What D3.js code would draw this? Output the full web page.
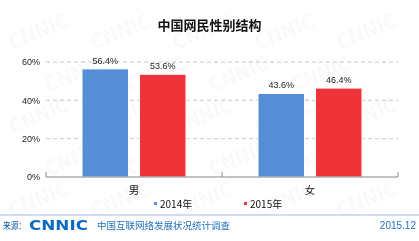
<!DOCTYPE html>
<html lang="zh">
<head>
<meta charset="utf-8">
<title>中国网民性别结构</title>
<script src="https://d3js.org/d3.v7.min.js"></script>
<style>
  body { margin: 0; background: #fff; }
  text { font-family: "Noto Sans CJK SC", "DejaVu Sans", sans-serif; }
  .tick text { font-family: "Liberation Sans", "Noto Sans CJK SC", sans-serif; font-size: 9px; fill: #222; }
  .grid line { stroke: #c8c8c8; stroke-dasharray: 4,3; }
</style>
</head>
<body>
<div id="chart"></div>
<script>
const categories = ["男", "女"];
const seriesNames = ["2014年", "2015年"];
const seriesColors = ["#558ed5", "#ee3438"];
const values2014 = [56.4, 43.6];
const values2015 = [53.6, 46.4];
const yTicks = [0, 20, 40, 60];

const w = 419, h = 241;
const margin = {top: 62, right: 21, bottom: 64, left: 46};
const pw = w - margin.left - margin.right;
const ph = h - margin.top - margin.bottom;

const svg = d3.select("#chart").append("svg")
  .attr("width", w).attr("height", h);

// faint watermark, kept inside the picture
const wm = svg.append("g").attr("fill", "#000").attr("opacity", 0.025)
  .style("font-family", "DejaVu Sans").style("font-weight", "bold").style("font-size", "20px");
for (let r = 0; r < 5; r++) {
  for (let c = 0; c < 5; c++) {
    const tx = c * 82 + (r % 2) * 36 + 12;
    const ty = r * 42 + 50;
    if (tx + 72 > w) continue;
    wm.append("text")
      .attr("transform", "translate(" + tx + "," + ty + ") rotate(-22)")
      .text("CNNIC");
  }
}

svg.append("text")
  .attr("x", w / 2).attr("y", 30)
  .attr("text-anchor", "middle")
  .style("font-size", "13px").style("font-weight", "bold").attr("fill", "#111")
  .text("中国网民性别结构");

const g = svg.append("g").attr("transform", "translate(" + margin.left + "," + margin.top + ")");

const x = d3.scaleBand().domain(categories).range([0, pw]);
const x1 = d3.scaleBand().domain(seriesNames).range([0, 104]).paddingInner(0.19);
const y = d3.scaleLinear().domain([0, 60]).range([ph, 0]);

// grid
g.append("g").attr("class", "grid")
  .selectAll("line").data(yTicks.filter(d => d > 0)).join("line")
  .attr("x1", 0).attr("x2", pw)
  .attr("y1", d => y(d)).attr("y2", d => y(d));

// y axis labels
const yAxis = g.append("g")
  .call(d3.axisLeft(y).tickValues(yTicks).tickSize(0).tickPadding(6).tickFormat(d => d + "%"));
yAxis.select(".domain").remove();

// bars
const data = categories.map((c, i) => ({cat: c, vals: [values2014[i], values2015[i]]}));
const groups = g.selectAll(".grp").data(data).join("g")
  .attr("transform", d => "translate(" + (x(d.cat) + x.bandwidth() / 2 - 52) + ",0)");

groups.selectAll("rect").data(d => d.vals.map((v, j) => ({v, s: seriesNames[j], j}))).join("rect")
  .attr("x", d => x1(d.s)).attr("width", x1.bandwidth())
  .attr("y", d => y(d.v)).attr("height", d => ph - y(d.v))
  .attr("fill", d => seriesColors[d.j])
  .attr("stroke", "#fff").attr("stroke-width", 1);

groups.selectAll(".lbl").data(d => d.vals.map((v, j) => ({v, s: seriesNames[j]}))).join("text")
  .attr("x", d => x1(d.s) + x1.bandwidth() / 2).attr("y", d => y(d.v) - 5)
  .attr("text-anchor", "middle")
  .style("font-family", "Liberation Sans").style("font-size", "9px").attr("fill", "#222")
  .text(d => d.v.toFixed(1) + "%");

// x axis
const xa = g.append("g").attr("transform", "translate(0," + ph + ")");
xa.append("line").attr("x1", 0).attr("x2", pw).attr("stroke", "#888").attr("stroke-width", 1.2);
xa.selectAll(".tk").data([0, pw / 2, pw]).join("line")
  .attr("x1", d => d).attr("x2", d => d).attr("y1", 0).attr("y2", -5)
  .attr("stroke", "#888");
xa.selectAll(".cl").data(categories).join("text")
  .attr("x", d => x(d) + x.bandwidth() / 2).attr("y", 17)
  .attr("text-anchor", "middle").style("font-size", "10.5px").attr("fill", "#111")
  .text(d => d);

// legend
const leg = svg.append("g");
const legX = [154, 244];
seriesNames.forEach((s, i) => {
  leg.append("rect").attr("x", legX[i]).attr("y", 202).attr("width", 3).attr("height", 3).attr("fill", seriesColors[i]);
  leg.append("text").attr("x", legX[i] + 6).attr("y", 208)
    .style("font-size", "10px").attr("fill", "#111").text(s);
});

// footer
svg.append("line").attr("x1", 0).attr("x2", w).attr("y1", 215).attr("y2", 215)
  .attr("stroke", "#9fbce2").attr("stroke-width", 1);
svg.append("text").attr("x", 3).attr("y", 229)
  .attr("textLength", 23).attr("lengthAdjust", "spacingAndGlyphs")
  .style("font-size", "9.5px").attr("fill", "#0d5aa7").text("来源：");
svg.append("text").attr("x", 29).attr("y", 230)
  .attr("textLength", 59).attr("lengthAdjust", "spacingAndGlyphs")
  .style("font-family", "DejaVu Sans").style("font-weight", "bold").style("font-size", "14px")
  .attr("fill", "#0d6bbf").text("CNNIC");
svg.append("text").attr("x", 97).attr("y", 229)
  .style("font-size", "9.5px").attr("fill", "#1f6fc0").text("中国互联网络发展状况统计调查");
svg.append("text").attr("x", 416).attr("y", 229).attr("text-anchor", "end")
  .style("font-family", "Liberation Sans").style("font-size", "10px").attr("fill", "#1f6fc0").text("2015.12");
</script>
</body>
</html>
